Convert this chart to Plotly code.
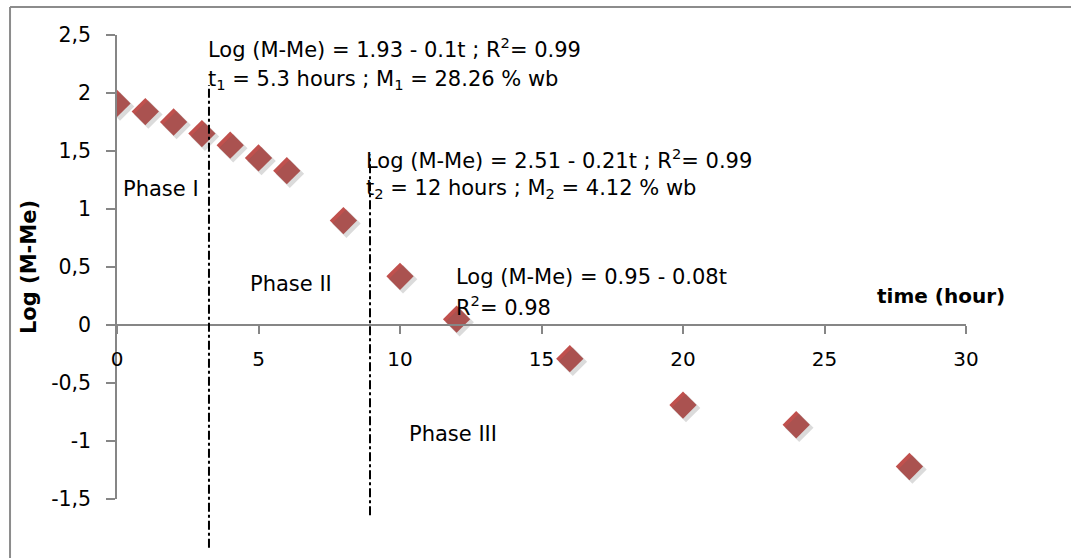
import plotly.graph_objects as go

# Drying kinetics: log of free moisture vs drying time
time_h = [0, 1, 2, 3, 4, 5, 6, 8, 10, 12, 16, 20, 24, 28]
log_m_me = [1.91, 1.84, 1.75, 1.65, 1.55, 1.44, 1.33, 0.90, 0.42, 0.05, -0.29, -0.69, -0.86, -1.22]

# Phase boundaries (hours) and the vertical extent of each divider
phase_bounds = [3.25, 8.94]
bound_top = [2.07, 1.47]
bound_bottom = [-1.92, -1.64]

x_ticks = [0, 5, 10, 15, 20, 25, 30]
y_ticks = [-1.5, -1, -0.5, 0, 0.5, 1, 1.5, 2, 2.5]
y_tick_labels = ["-1,5", "-1", "-0,5", "0", "0,5", "1", "1,5", "2", "2,5"]

FONT = "DejaVu Sans, sans-serif"
AXIS_COLOR = "#868686"
MARKER_COLOR = "#C0504D"

X_RANGE = [0, 30]
Y_RANGE = [-1.5, 2.5]

fig = go.Figure()

# soft drop shadow under each diamond, drawn on a slightly shifted overlay axis pair
fig.add_trace(go.Scatter(
    x=time_h, y=log_m_me, mode="markers",
    marker=dict(symbol="diamond", size=22, color="rgba(90,90,90,0.22)", line=dict(width=0)),
    xaxis="x2", yaxis="y2", hoverinfo="skip", showlegend=False,
))
fig.add_trace(go.Scatter(
    x=time_h, y=log_m_me, mode="markers",
    marker=dict(symbol="diamond", size=21, color=MARKER_COLOR, line=dict(width=0)),
    showlegend=False,
))

def to_paper_y(v):
    return (v - Y_RANGE[0]) / (Y_RANGE[1] - Y_RANGE[0])

shapes = []
for xb, yt, yb in zip(phase_bounds, bound_top, bound_bottom):
    shapes.append(dict(
        type="line", xref="x", yref="paper", x0=xb, x1=xb,
        y0=to_paper_y(yb), y1=to_paper_y(yt),
        line=dict(color="black", width=2, dash="dashdot"),
    ))
# outer frame (top and left edges)
shapes.append(dict(type="line", xref="paper", yref="paper", x0=-0.126, x1=1.2,
                   y0=1.0603, y1=1.0603, line=dict(color="#8c8c8c", width=2)))
shapes.append(dict(type="line", xref="paper", yref="paper", x0=-0.126, x1=-0.126,
                   y0=-0.2, y1=1.0603, line=dict(color="#8c8c8c", width=2)))

ann_font = dict(family=FONT, size=21, color="black")
annotations = [
    dict(x=3.14, y=2.39, text="Log (M-Me) = 1.93 - 0.1t ; R<sup>2</sup>= 0.99"),
    dict(x=3.14, y=2.11, text="t<sub>1</sub> = 5.3 hours ; M<sub>1</sub> = 28.26 % wb"),
    dict(x=8.73, y=1.43, text="Log (M-Me) = 2.51 - 0.21t ; R<sup>2</sup>= 0.99"),
    dict(x=8.73, y=1.17, text="t<sub>2</sub> = 12 hours ; M<sub>2</sub> = 4.12 % wb"),
    dict(x=11.9, y=0.414, text="Log (M-Me) = 0.95 - 0.08t"),
    dict(x=11.9, y=0.164, text="R<sup>2</sup>= 0.98"),
    dict(x=0.14, y=1.17, text="Phase I"),
    dict(x=4.63, y=0.353, text="Phase II"),
    dict(x=10.25, y=-0.94, text="Phase III"),
]
for a in annotations:
    a.update(xref="x", yref="y", xanchor="left", yanchor="middle",
             showarrow=False, font=ann_font)
annotations.append(dict(x=26.78, y=0.25, xref="x", yref="y", xanchor="left", yanchor="middle",
                        text="<b>time (hour)</b>", showarrow=False,
                        font=dict(family=FONT, size=20, color="black")))

# shift of the shadow layer (~3 px right and down)
dx = 3 / 28.3
dy = 3 / 116.0

fig.update_layout(
    width=1071, height=558,
    margin=dict(l=117, r=105, t=35, b=59),
    paper_bgcolor="white", plot_bgcolor="white",
    separators=", ",
    font=dict(family=FONT, size=20, color="black"),
    shapes=shapes,
    annotations=annotations,
    xaxis=dict(
        range=X_RANGE, tickvals=x_ticks, ticks="outside", ticklen=8, tickwidth=1.5,
        tickcolor=AXIS_COLOR, showline=True, linecolor=AXIS_COLOR, linewidth=1.5,
        showgrid=False, zeroline=False, anchor="free", position=to_paper_y(0),
        ticklabelstandoff=8, tickfont=dict(family=FONT, size=20),
    ),
    yaxis=dict(
        range=Y_RANGE, tickvals=y_ticks, ticktext=y_tick_labels, ticks="outside",
        ticklen=9, tickwidth=1.5,
        tickcolor=AXIS_COLOR, showline=True, linecolor=AXIS_COLOR, linewidth=1.5,
        showgrid=False, zeroline=False, ticklabelstandoff=11,
        tickfont=dict(family=FONT, size=20.5),
        title=dict(text="<b>Log (M-Me)</b>", font=dict(family=FONT, size=21), standoff=9),
    ),
    xaxis2=dict(range=[X_RANGE[0] - dx, X_RANGE[1] - dx], overlaying="x", visible=False),
    yaxis2=dict(range=[Y_RANGE[0] + dy, Y_RANGE[1] + dy], overlaying="y", visible=False),
)

fig.write_html("out.html")
